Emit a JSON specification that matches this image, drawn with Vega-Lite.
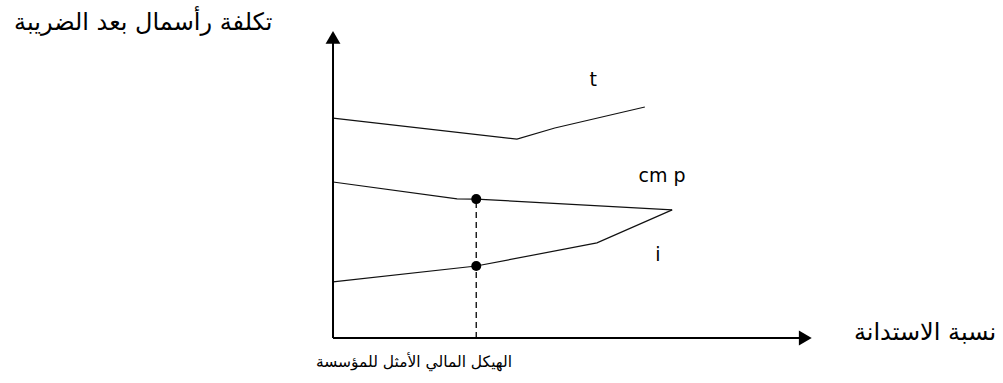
{
  "$schema": "https://vega.github.io/schema/vega-lite/v6.json",
  "width": 1003,
  "height": 383,
  "padding": 0,
  "autosize": {"type": "fit", "contains": "padding"},
  "background": "white",
  "config": {"view": {"stroke": null}},
  "datasets": {
    "curves": [
      {"series": "t", "o": 1, "x": 0, "y": 73.3},
      {"series": "t", "o": 2, "x": 38.4, "y": 66.3},
      {"series": "t", "o": 3, "x": 46.3, "y": 70},
      {"series": "t", "o": 4, "x": 65.1, "y": 77},
      {"series": "cmp", "o": 1, "x": 0, "y": 52},
      {"series": "cmp", "o": 2, "x": 25.9, "y": 46.4},
      {"series": "cmp", "o": 3, "x": 29.9, "y": 46.3},
      {"series": "cmp", "o": 4, "x": 70.8, "y": 42.7},
      {"series": "i", "o": 1, "x": 0, "y": 18.7},
      {"series": "i", "o": 2, "x": 29.9, "y": 24},
      {"series": "i", "o": 3, "x": 55.1, "y": 31.7},
      {"series": "i", "o": 4, "x": 70.8, "y": 42.7}
    ],
    "dots": [
      {"x": 29.9, "y": 46.3},
      {"x": 29.9, "y": 24}
    ],
    "dashed": [
      {"x": 29.9, "y": 0, "x2": 29.9, "y2": 46.3}
    ],
    "axes": [
      {"x": 0, "y": 0, "x2": 0, "y2": 100},
      {"x": 0, "y": 0, "x2": 98.6, "y2": 0}
    ],
    "arrows": [
      {"x": 0, "y": 100.2, "shape": "triangle-up"},
      {"x": 98.6, "y": 0, "shape": "triangle-right"}
    ],
    "latin": [
      {"label": "t", "x": 54.3, "y": 86},
      {"label": "cm p", "x": 68.7, "y": 54},
      {"label": "i", "x": 67.8, "y": 27.7}
    ],
    "arabic": [
      {"role": "yaxis", "label": "تكلفة رأسمال بعد الضريبة", "x": -39.6, "y": 105},
      {"role": "xaxis", "label": "نسبة الاستدانة", "x": 123.6, "y": 1.7},
      {"role": "optimum", "label": "الهيكل المالي الأمثل للمؤسسة", "x": 16.9, "y": -8}
    ]
  },
  "encoding": {
    "x": {"field": "x", "type": "quantitative", "scale": {"domain": [-69.52, 139.87], "nice": false, "zero": false}, "axis": null},
    "y": {"field": "y", "type": "quantitative", "scale": {"domain": [-15, 112.67], "nice": false, "zero": false}, "axis": null}
  },
  "layer": [
    {
      "data": {"name": "curves"},
      "mark": {"type": "line", "color": "#111111", "strokeWidth": 1.2},
      "encoding": {
        "detail": {"field": "series"},
        "order": {"field": "o", "type": "quantitative"}
      }
    },
    {
      "data": {"name": "dashed"},
      "mark": {"type": "rule", "color": "#000000", "strokeWidth": 1.3, "strokeDash": [6, 4]},
      "encoding": {
        "x2": {"field": "x2"},
        "y2": {"field": "y2"}
      }
    },
    {
      "data": {"name": "axes"},
      "mark": {"type": "rule", "color": "#000000", "strokeWidth": 2},
      "encoding": {
        "x2": {"field": "x2"},
        "y2": {"field": "y2"}
      }
    },
    {
      "data": {"name": "arrows"},
      "mark": {"type": "point", "filled": true, "color": "#000000", "size": 220, "opacity": 1},
      "encoding": {
        "shape": {"field": "shape", "type": "nominal", "scale": null}
      }
    },
    {
      "data": {"name": "dots"},
      "mark": {"type": "point", "filled": true, "shape": "circle", "color": "#000000", "size": 100, "opacity": 1},
      "encoding": {}
    },
    {
      "data": {"name": "latin"},
      "mark": {"type": "text", "font": "DejaVu Sans", "fontSize": 19, "color": "#000000", "align": "center", "baseline": "middle"},
      "encoding": {"text": {"field": "label"}}
    },
    {
      "data": {"name": "arabic"},
      "transform": [{"filter": "datum.role !== 'optimum'"}],
      "mark": {"type": "text", "font": "DejaVu Sans", "fontSize": 24, "color": "#000000", "align": "center", "baseline": "middle"},
      "encoding": {"text": {"field": "label"}}
    },
    {
      "data": {"name": "arabic"},
      "transform": [{"filter": "datum.role === 'optimum'"}],
      "mark": {"type": "text", "font": "DejaVu Sans", "fontSize": 15.5, "color": "#000000", "align": "center", "baseline": "middle"},
      "encoding": {"text": {"field": "label"}}
    }
  ]
}
